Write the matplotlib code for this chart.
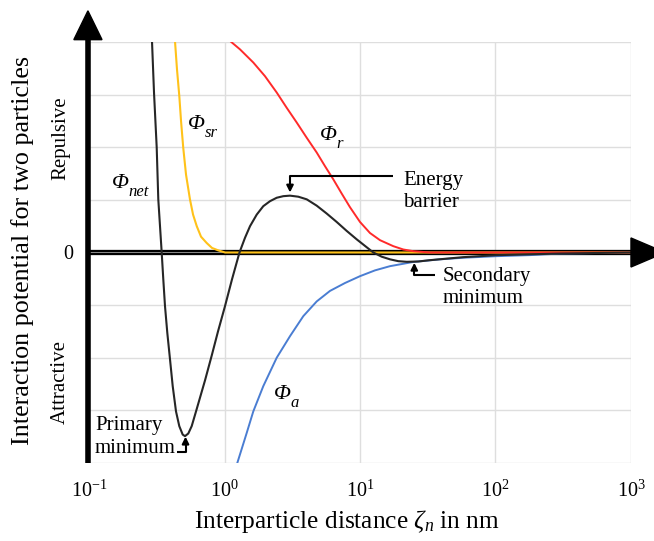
import matplotlib
matplotlib.use('Agg')
import matplotlib.pyplot as plt
from matplotlib.patches import Polygon

plt.rcParams['font.family'] = ['Liberation Serif', 'DejaVu Serif']
plt.rcParams['mathtext.fontset'] = 'custom'
plt.rcParams['mathtext.rm'] = 'Liberation Serif'
plt.rcParams['mathtext.it'] = 'Liberation Serif:italic'
plt.rcParams['mathtext.bf'] = 'Liberation Serif:bold'

# ---------------- data ----------------
# net potential (black)
net_x = [0.2868, 0.2917, 0.3018, 0.3159, 0.3246, 0.3439, 0.3534, 0.3638, 0.3784,
         0.3961, 0.4147, 0.4386, 0.4638, 0.4914, 0.5110, 0.5404, 0.5726, 0.6163,
         0.7181, 0.8045, 0.8954, 1.0085, 1.136, 1.290, 1.417, 1.543, 1.729, 1.933,
         2.167, 2.428, 2.716, 3.044, 3.505, 4.044, 4.791, 5.679, 6.730, 7.977,
         9.454, 11.20, 12.54, 14.46, 16.65, 19.17, 22.11, 26.93, 32.86, 57.56,
         102.6, 299, 1000]
net_y = [4.43, 4.01, 3.04, 2.00, 1.01, 0.00, -0.51, -1.02, -1.53,
         -2.03, -2.54, -3.02, -3.30, -3.46, -3.49, -3.44, -3.30, -3.02,
         -2.43, -1.96, -1.50, -1.02, -0.51, 0.00, 0.28, 0.50, 0.72, 0.88,
         0.975, 1.04, 1.07, 1.08, 1.06, 1.01, 0.89, 0.74, 0.58, 0.41,
         0.25, 0.10, 0.00, -0.08, -0.13, -0.165, -0.177, -0.171, -0.146, -0.089,
         -0.051, -0.02, 0.00]

# short-range repulsion (yellow)
sr_x = [0.428, 0.431, 0.446, 0.464, 0.478, 0.496, 0.520, 0.556, 0.586, 0.624,
        0.671, 0.739, 0.809, 0.900, 1.01, 10, 100, 1000]
sr_y = [4.43, 4.02, 3.48, 2.97, 2.49, 1.99, 1.48, 1.01, 0.72, 0.50,
        0.30, 0.18, 0.086, 0.04, 0.00, 0.00, 0.00, 0.00]

# electrostatic repulsion (red)
r_x = [1.06, 1.098, 1.301, 1.631, 1.990, 2.428, 2.877, 3.411, 4.044, 4.791,
       5.517, 6.353, 7.326, 8.438, 10.0, 11.85, 14.05, 17.61, 20.87, 24.74,
       32.86, 100, 1000]
r_y = [4.10, 4.02, 3.86, 3.61, 3.35, 3.04, 2.75, 2.47, 2.18, 1.90,
       1.64, 1.39, 1.12, 0.86, 0.58, 0.37, 0.234, 0.12, 0.057, 0.025,
       0.00, 0.00, 0.00]

# van der Waals attraction (blue)
a_x = [1.195, 1.243, 1.458, 1.631, 1.933, 2.428, 3.044, 3.815, 4.791, 6.006,
       7.750, 10.0, 12.90, 16.65, 24.74, 38.94, 57.87, 102.1, 179.7, 300, 1000]
a_y = [-4.13, -4.00, -3.43, -3.02, -2.54, -2.00, -1.59, -1.21, -0.93, -0.73,
       -0.58, -0.45, -0.34, -0.26, -0.18, -0.13, -0.10, -0.07, -0.05, -0.02, 0.00]

xticks = [0.1, 1, 10, 100, 1000]
xtick_labels = [r'$10^{-1}$', r'$10^{0}$', r'$10^{1}$', r'$10^{2}$', r'$10^{3}$']
yticks = [-4, -3, -2, -1, 0, 1, 2, 3, 4]
ytick_labels = ['', '', '', '', '0', '', '', '', '']

# ---------------- figure ----------------
fig = plt.figure(figsize=(6.54, 5.41), dpi=100)
ax = fig.add_axes([0.1361, 0.1442, 0.8287, 0.7782])
ax.set_xscale('log')
ax.set_xlim(0.1, 1000)
ax.set_ylim(-4, 4)
ax.set_xticks(xticks)
ax.set_xticklabels(xtick_labels)
ax.minorticks_off()
ax.set_yticks(yticks)
ax.set_yticklabels(ytick_labels)
ax.tick_params(length=0, labelsize=14.5)
ax.tick_params(axis='x', pad=13)
ax.tick_params(axis='y', pad=11)
ax.grid(True, color='#dedede', lw=1.0)
ax.set_axisbelow(True)
for s in ax.spines.values():
    s.set_visible(False)

# axes arrows
ax.plot([0, 1.0018], [0.5, 0.5], transform=ax.transAxes, color='black', lw=3.8,
        clip_on=False, zorder=2, solid_capstyle='butt')
ax.plot([0, 1.0018], [0.5, 0.5], transform=ax.transAxes, color='#8c8c8c', lw=0.7,
        clip_on=False, zorder=2.1, solid_capstyle='butt')
ax.add_patch(Polygon([[1.0, 0.5345], [1.063, 0.5], [1.0, 0.4655]], closed=True,
                     transform=ax.transAxes, clip_on=False, color='black', zorder=6))
ax.plot([-0.002, -0.002], [0, 1.007], transform=ax.transAxes, color='black', lw=4.0,
        clip_on=False, zorder=6, solid_capstyle='butt')
ax.add_patch(Polygon([[-0.028, 1.0055], [-0.002, 1.074], [0.024, 1.0055]], closed=True,
                     transform=ax.transAxes, clip_on=False, color='black', zorder=6))

# curves
ax.plot(a_x, a_y, color='#4a7dd2', lw=1.4, zorder=3)
ax.plot(sr_x, sr_y, color='#ffc21a', lw=1.5, zorder=3.2)
ax.plot(r_x, r_y, color='#ff2a2a', lw=1.4, zorder=3.4)
ax.plot(net_x, net_y, color='#262626', lw=1.5, zorder=4)

# leaders with arrows
def leader(xs, ys, tip):
    ax.plot(xs, ys, color='black', lw=1.5, zorder=5, solid_capstyle='butt')
    ax.annotate('', xy=tip, xytext=(xs[-1], ys[-1]),
                arrowprops=dict(arrowstyle='-|>', color='black', lw=1.5,
                                mutation_scale=10, shrinkA=0, shrinkB=0), zorder=5)

leader([17.6, 3.044, 3.044], [1.45, 1.45, 1.25], (3.044, 1.14))
leader([35.77, 25.16, 25.16], [-0.437, -0.437, -0.30], (25.16, -0.196))
leader([0.4438, 0.5156, 0.5156], [-3.80, -3.80, -3.62], (0.5156, -3.50))

ax.text(20.87, 1.16, 'Energy\nbarrier', fontsize=15, ha='left', va='center', linespacing=1.25)
ax.text(40.77, -0.665, 'Secondary\nminimum', fontsize=15, ha='left', va='center', linespacing=1.25)
ax.text(0.1107, -3.51, 'Primary\nminimum', fontsize=15, ha='left', va='center', linespacing=1.25)

# potential labels
def phi_label(x, y, sub):
    ax.text(x, y, 'Φ', style='italic', fontsize=16, ha='left', va='center', zorder=7)
    ax.annotate(sub, xy=(x, y), xytext=(12, -6), textcoords='offset points',
                style='italic', fontsize=12, ha='left', va='center', zorder=7)

phi_label(0.5377, 2.43, 'sr')
phi_label(0.1471, 1.31, 'net')
phi_label(5.068, 2.22, 'r')
phi_label(2.318, -2.70, 'a')

ax.text(-0.0526, 0.772, 'Repulsive', transform=ax.transAxes, rotation=90,
        ha='center', va='center', fontsize=15)
ax.text(-0.0526, 0.192, 'Attractive', transform=ax.transAxes, rotation=90,
        ha='center', va='center', fontsize=15)

ax.set_ylabel('Interaction potential for two particles', fontsize=18.8, va='center')
ax.yaxis.set_label_coords(-0.1236, 0.506)
ax.set_xlabel(r'Interparticle distance $\zeta_n$ in nm', fontsize=18.3, va='center')
ax.xaxis.set_label_coords(0.476, -0.140)

fig.savefig('out.png', dpi=100)
